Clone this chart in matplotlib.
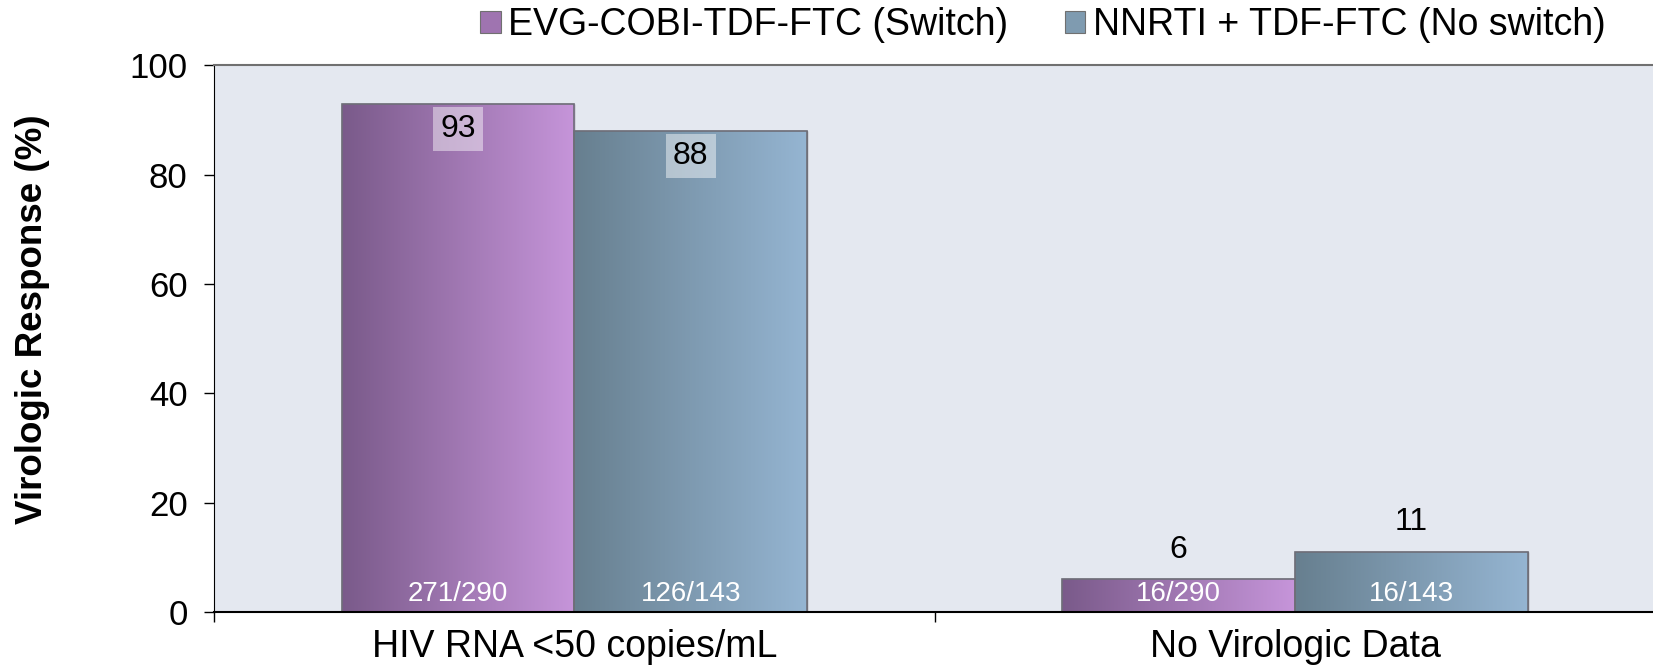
import numpy as np
import matplotlib
matplotlib.use("Agg")
import matplotlib.pyplot as plt
from matplotlib.colors import LinearSegmentedColormap
from matplotlib.patches import Patch

plt.rcParams['font.family'] = ['Liberation Sans', 'DejaVu Sans']

categories = ["HIV RNA <50 copies/mL", "No Virologic Data"]
series_names = ["EVG-COBI-TDF-FTC (Switch)", "NNRTI + TDF-FTC (No switch)"]
switch_values = [93, 6]
noswitch_values = [88, 11]
switch_counts = ["271/290", "16/290"]
noswitch_counts = ["126/143", "16/143"]
y_ticks = [0, 20, 40, 60, 80, 100]

grad_colors = [("#7a5a8a", "#c695da"), ("#677f8f", "#95b5d2")]
legend_colors = ["#9f74b0", "#7f9bb0"]

fig = plt.figure(figsize=(16.53, 6.66), dpi=100)
ax = fig.add_axes([0.1295, 0.0811, 0.8720, 0.8206])
ax.set_facecolor("#e4e8f0")

x = np.arange(len(categories)) + 0.5
w = 0.323
all_vals = [switch_values, noswitch_values]
all_counts = [switch_counts, noswitch_counts]
offsets = [-w / 2, w / 2]

ax.set_xlim(0, len(categories))
ax.set_ylim(0, 100)

grad = np.linspace(0, 1, 256).reshape(1, -1)
for s in range(2):
    cmap = LinearSegmentedColormap.from_list("g%d" % s, grad_colors[s])
    bars = ax.bar(x + offsets[s], all_vals[s], width=w, color=legend_colors[s],
                  edgecolor="#7a7a80", linewidth=1.0, zorder=2)
    for b, v, c in zip(bars, all_vals[s], all_counts[s]):
        x0, y0 = b.get_x(), b.get_y()
        bw, bh = b.get_width(), b.get_height()
        im = ax.imshow(grad, cmap=cmap, extent=(x0, x0 + bw, y0, y0 + bh),
                       aspect="auto", zorder=2.5, interpolation="bicubic")
        im.set_clip_path(b)
        # bevel outline
        ax.bar(x0 + bw / 2, bh, width=bw, bottom=y0, fill=False,
               edgecolor="#6e6e78", linewidth=1.2, zorder=3)
        cx = x0 + bw / 2
        if v > 20:
            ax.text(cx, v - 4.6, str(v), ha="center", va="center", fontsize=23,
                    color="black", zorder=5,
                    bbox=dict(boxstyle="square,pad=0.22", facecolor="white",
                              edgecolor="none", alpha=0.45))
        else:
            ax.text(cx, v + 5.4, str(v), ha="center", va="center", fontsize=23,
                    color="black", zorder=5)
        ax.text(cx, 3.3, c, ha="center", va="center", fontsize=20,
                color="white", zorder=5,
                family=["Liberation Sans Narrow", "Liberation Sans", "DejaVu Sans"])

ax.set_yticks(y_ticks)
ax.tick_params(axis="y", direction="out", length=7, width=1, labelsize=25, pad=12)
ax.set_xticks(x)
ax.set_xticklabels(categories)
ax.tick_params(axis="x", which="major", length=0, labelsize=27, pad=12)
ax.set_xticks(np.arange(len(categories) + 1), minor=True)
ax.tick_params(axis="x", which="minor", direction="out", length=7, width=1)

ax.spines["top"].set_color("#707070")
ax.spines["top"].set_linewidth(1.5)
ax.spines["right"].set_visible(False)
ax.spines["left"].set_color("black")
ax.spines["bottom"].set_color("black")
ax.spines["bottom"].set_linewidth(1.5)
ax.spines["bottom"].set_zorder(4)

fig.text(0.0195, 0.52, "Virologic Response (%)", rotation=90, ha="center",
         va="center", fontsize=26.5, fontweight="bold")

handles = [Patch(facecolor=legend_colors[i], edgecolor="#707070", linewidth=0.8)
           for i in range(2)]
fig.legend(handles, series_names, loc="center", bbox_to_anchor=(0.631, 0.962),
           ncol=2, frameon=False, fontsize=27, handlelength=0.55,
           handleheight=0.55, handletextpad=0.2, columnspacing=1.5,
           borderaxespad=0, borderpad=0)

fig.savefig("out.png", dpi=100)
